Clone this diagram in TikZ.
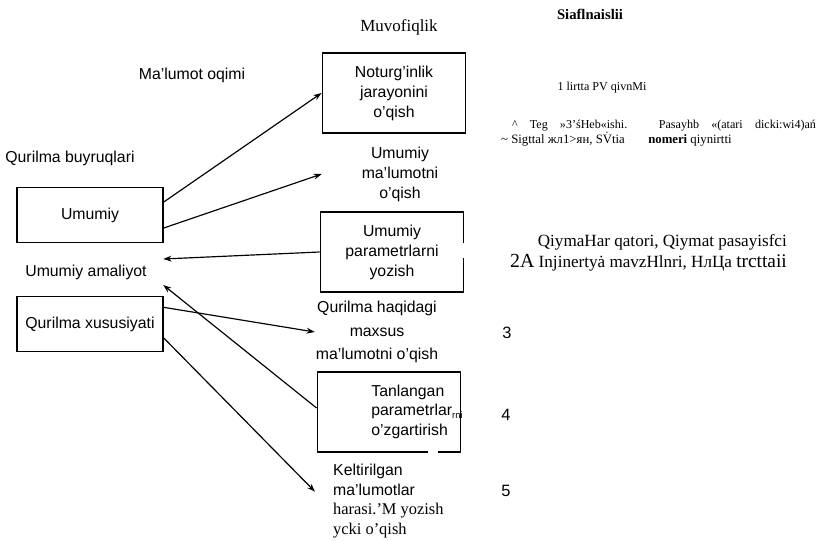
\documentclass[tikz,border=0pt]{standalone}
\usepackage{fontspec}
\setmainfont{Liberation Serif}
\setsansfont{Liberation Sans}
\usetikzlibrary{positioning, arrows.meta}

\begin{document}
\begin{tikzpicture}[x=0.03cm, y=-0.03cm,
  lbl/.style={font=\sffamily\fontsize{13.5}{17}\selectfont, align=center, inner sep=0pt},
  box/.style={rectangle, draw, line width=1.3pt, minimum width=4.3cm,
              minimum height=2.4cm, lbl},
  cmd/.style={rectangle, draw, line width=1.3pt, minimum width=4.38cm,
              minimum height=1.66cm, lbl},
  txt/.style={font=\fontsize{10.3}{12}\selectfont, inner sep=0pt},
  arr/.style={-{Stealth[length=7pt, width=5pt]}, line width=1pt}
]
  \useasboundingbox (0,0) rectangle (821,541);

  \node[box] (natur) at (394,93)  {Noturg'inlik\\jarayonini\\o'qish};
  \node[box] (param) at (392,252) {Umumiy\\parametrlarni\\yozish};
  \node[box, align=left] (tanl)  at (389,412)
       {\makebox[4.3cm][l]{\hspace{1.62cm}\begin{tabular}{@{}l@{}}Tanlangan\\
        parametrlar{\fontsize{8}{8}\selectfont\raisebox{-2pt}{rni}}\\o'zgartirish\end{tabular}}};
  \node[cmd] (umum)  at (90,215)  {Umumiy};
  \node[cmd] (qxus)  at (90,324)  {Qurilma xususiyati};

  \draw[white, line width=3pt] ([yshift=0.28cm]param.east) -- ([yshift=-0.17cm]param.east);
  \draw[white, line width=3pt] ([xshift=1.17cm]tanl.south) -- ([xshift=1.47cm]tanl.south);

  \node[lbl] (oqim) at (192,75)  {Ma'lumot oqimi};
  \node[lbl] (buyr) at (70,158)  {Qurilma buyruqlari};
  \node[lbl, minimum width=4.62cm] (amal)   at (86,272)  {Umumiy amaliyot};
  \node[lbl, minimum width=4.68cm] (umtext) at (400,174) {Umumiy\\ma'lumotni\\o'qish};
  \node[lbl, minimum width=3.72cm, font=\sffamily\fontsize{13.5}{20}\selectfont]
       (haqid) at (377,332) {Qurilma haqidagi\\maxsus\\ma'lumotni o'qish};
  \node[lbl, align=left, anchor=west, inner xsep=0.54cm] (kelt) at (315,501)
       {Keltirilgan\\ma'lumotlar\\{\rmfamily\fontsize{14}{17}\selectfont harasi.'M yozish}\\{\rmfamily\fontsize{14}{17}\selectfont ycki o'qish}};

  \node[lbl, font=\sffamily\fontsize{14}{17}\selectfont] (n3) at (507,333) {3};
  \node[lbl, font=\sffamily\fontsize{14}{17}\selectfont] (n4) at (506,415) {4};
  \node[lbl, font=\sffamily\fontsize{14}{17}\selectfont] (n5) at (506,491) {5};

  \node[font=\fontsize{14.5}{17}\selectfont, inner sep=0pt] (muvof) at (399,27) {Muvofiqlik};
  \node[font=\bfseries\fontsize{12.5}{15}\selectfont, inner sep=0pt] (siafl) at (590,14) {Siaflnaislii};
  \node[txt] (lirtta) at (602,88) {1 lirtta PV qivnMi};
  \node[txt] (teg) at (664,126)
       {\makebox[9.12cm][s]{\textasciicircum{} Teg »3’śHeb«ishi. Pasayhb «(atari dicki:wi4)ań}};
  \node[txt, anchor=west, font=\fontsize{10.9}{12}\selectfont] (sigt) at (501,139)
       {\textasciitilde{} Sigttal жл1>ян, S\rlap{\hspace{1.8pt}\raisebox{2.4pt}{˙}}Vtia\hspace{20pt}\textbf{nomeri} qiynirtti};
  \node[font=\fontsize{14.6}{17.5}\selectfont, align=right, anchor=east, inner sep=0pt] (qiym) at (787,253)
       {QiymaHar qatori, Qiymat pasayisfci\\{\fontsize{17}{17}\selectfont 2A} Injinertyȧ mavzHlnri, НлЦа {\fontsize{16.5}{16.5}\selectfont trcttaii}};

  \draw[arr] ([yshift=0.39cm]umum.east) -- (natur.west);
  \draw[arr] ([yshift=-0.39cm]umum.east) -- (umtext.west);
  \draw[arr] (param.west) -- ([yshift=0.39cm]amal.east);
  \draw[arr] ([yshift=0.5cm]qxus.east) -- (haqid.west);
  \draw[arr] ([yshift=0.12cm]tanl.west) -- ([yshift=-0.39cm]amal.east);
  \draw[arr] ([yshift=-0.42cm]qxus.east) -- ([yshift=0.28cm]kelt.west);
\end{tikzpicture}
\end{document}
